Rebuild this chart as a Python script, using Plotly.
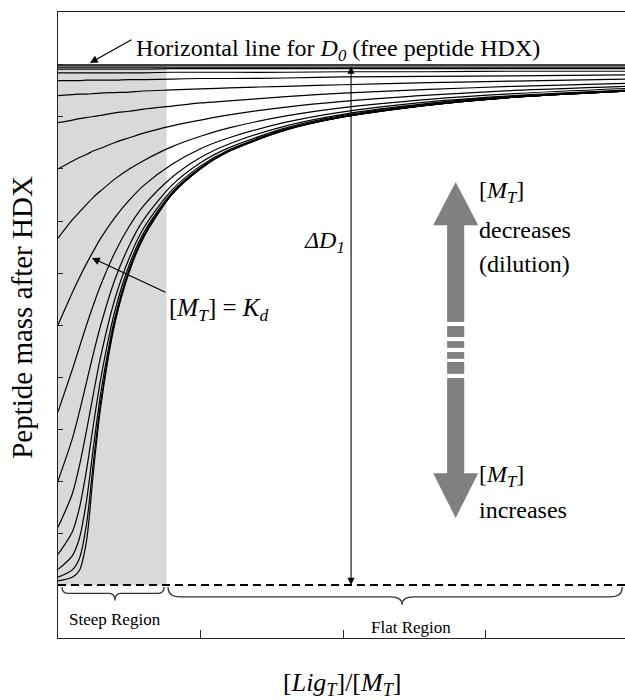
import plotly.graph_objects as go

# ---- data ----
# x: ligand/protein ratio [Lig_T]/[M_T]; y: peptide mass (D0 = 10, fully protected = 0)
ratio = [0, 0.5, 0.75, 1, 1.25, 1.5, 2, 2.5, 3, 4, 5, 6, 8, 10, 13, 16, 20]

curve_k0p0078 = [0.08, 0.15, 0.28, 0.85, 2.22, 3.43, 5.04, 6.02, 6.68, 7.51, 8.00, 8.34, 8.75, 9.00, 9.23, 9.38, 9.50]
curve_k0p016 = [0.15, 0.29, 0.51, 1.17, 2.40, 3.52, 5.08, 6.04, 6.69, 7.51, 8.01, 8.34, 8.75, 9.00, 9.23, 9.38, 9.50]
curve_k0p031 = [0.30, 0.56, 0.90, 1.62, 2.68, 3.69, 5.15, 6.08, 6.72, 7.53, 8.02, 8.34, 8.76, 9.00, 9.23, 9.38, 9.50]
curve_k0p063 = [0.59, 1.02, 1.48, 2.21, 3.11, 3.97, 5.28, 6.16, 6.77, 7.55, 8.03, 8.35, 8.76, 9.01, 9.23, 9.38, 9.50]
curve_k0p125 = [1.11, 1.75, 2.29, 2.97, 3.70, 4.40, 5.51, 6.29, 6.86, 7.60, 8.06, 8.37, 8.77, 9.01, 9.24, 9.38, 9.50]
curve_k0p25 = [2.00, 2.81, 3.33, 3.90, 4.47, 5.00, 5.88, 6.53, 7.02, 7.69, 8.12, 8.41, 8.79, 9.03, 9.25, 9.39, 9.51]
curve_k0p5 = [3.33, 4.14, 4.57, 5.00, 5.40, 5.77, 6.40, 6.90, 7.29, 7.84, 8.22, 8.48, 8.83, 9.05, 9.26, 9.40, 9.51]
curve_k1 = [5.00, 5.62, 5.91, 6.18, 6.43, 6.67, 7.07, 7.40, 7.68, 8.09, 8.39, 8.60, 8.90, 9.10, 9.29, 9.41, 9.52]
curve_k2 = [6.67, 7.02, 7.17, 7.32, 7.46, 7.58, 7.81, 8.00, 8.16, 8.43, 8.63, 8.79, 9.02, 9.18, 9.34, 9.45, 9.55]
curve_k4 = [8.00, 8.15, 8.22, 8.28, 8.35, 8.40, 8.51, 8.60, 8.69, 8.83, 8.94, 9.04, 9.19, 9.30, 9.42, 9.51, 9.59]
curve_k8 = [8.89, 8.94, 8.97, 8.99, 9.01, 9.03, 9.08, 9.11, 9.15, 9.21, 9.27, 9.31, 9.39, 9.46, 9.53, 9.59, 9.65]
curve_k16 = [9.41, 9.43, 9.44, 9.44, 9.45, 9.46, 9.47, 9.48, 9.50, 9.52, 9.54, 9.56, 9.59, 9.62, 9.66, 9.69, 9.73]
curve_k32 = [9.70, 9.70, 9.70, 9.71, 9.71, 9.71, 9.71, 9.72, 9.72, 9.73, 9.74, 9.74, 9.75, 9.77, 9.78, 9.79, 9.81]
curve_k64 = [9.85, 9.85, 9.85, 9.85, 9.85, 9.85, 9.85, 9.85, 9.85, 9.86, 9.86, 9.86, 9.86, 9.87, 9.87, 9.88, 9.88]
curve_k128 = [9.92, 9.92, 9.92, 9.92, 9.92, 9.92, 9.92, 9.92, 9.92, 9.93, 9.93, 9.93, 9.93, 9.93, 9.93, 9.93, 9.93]
curve_k256 = [9.96, 9.96, 9.96, 9.96, 9.96, 9.96, 9.96, 9.96, 9.96, 9.96, 9.96, 9.96, 9.96, 9.96, 9.96, 9.96, 9.96]
free_peptide_D0 = [10, 10, 10, 10, 10, 10, 10, 10, 10, 10, 10, 10, 10, 10, 10, 10, 10]

curves = [curve_k0p0078, curve_k0p016, curve_k0p031, curve_k0p063, curve_k0p125,
          curve_k0p25, curve_k0p5, curve_k1, curve_k2, curve_k4, curve_k8,
          curve_k16, curve_k32, curve_k64, curve_k128, curve_k256]

D0_level = 10
bound_level = 0
steep_end = 3.81
x_ticks = [5, 10, 15]
y_ticks = [0, 1, 2, 3, 4, 5, 6, 7, 8, 9, 10]

FONT = "Liberation Serif"

fig = go.Figure()
for c in curves:
    fig.add_trace(go.Scatter(x=ratio, y=c, mode="lines",
                             line=dict(color="black", width=1.2, shape="spline", smoothing=0.8),
                             hoverinfo="skip", showlegend=False))
fig.add_trace(go.Scatter(x=ratio, y=free_peptide_D0, mode="lines",
                         line=dict(color="black", width=1.5),
                         hoverinfo="skip", showlegend=False))

shapes = []
# steep region shading
shapes.append(dict(type="rect", xref="x", yref="y", x0=0, x1=steep_end, y0=bound_level, y1=D0_level,
                   fillcolor="#d9d9d9", line=dict(width=0), layer="below"))
# dashed bound level
shapes.append(dict(type="line", xref="paper", yref="y", x0=0, x1=1, y0=bound_level, y1=bound_level,
                   line=dict(color="black", width=2, dash="8px,5px")))

# braces
def brace(x0, x1, xc, ytop, ymid, ybot, c):
    return (f"M {x0},{ytop} Q {x0},{ymid} {x0+c},{ymid} L {xc-c},{ymid} "
            f"Q {xc},{ymid} {xc},{ybot} Q {xc},{ymid} {xc+c},{ymid} L {x1-c},{ymid} "
            f"Q {x1},{ymid} {x1},{ytop}")

shapes.append(dict(type="path", xref="x", yref="y",
                   path=brace(0.14, 3.72, 2.0, -0.04, -0.16, -0.30, 0.2),
                   line=dict(color="#333", width=1.3)))
shapes.append(dict(type="path", xref="x", yref="y",
                   path=brace(3.86, 19.79, 12.07, -0.04, -0.23, -0.38, 0.42),
                   line=dict(color="#333", width=1.3)))

# big gray double arrow
ax_c, sh, hd = 13.95, 0.30, 0.79
shapes.append(dict(type="path", xref="x", yref="y",
                   path=(f"M {ax_c-sh},6.92 L {ax_c-hd},6.92 L {ax_c},7.75 L {ax_c+hd},6.92 L {ax_c+sh},6.92 "
                         f"L {ax_c+sh},2.15 L {ax_c+hd},2.15 L {ax_c},1.29 L {ax_c-hd},2.15 L {ax_c-sh},2.15 Z"),
                   fillcolor="#808080", line=dict(width=0)))
for (ya, yb) in [(4.98, 5.06), (4.69, 4.77), (4.48, 4.56), (4.29, 4.35), (3.98, 4.06)]:
    shapes.append(dict(type="rect", xref="x", yref="y", x0=ax_c-0.5, x1=ax_c+0.5, y0=ya, y1=yb,
                       fillcolor="white", line=dict(width=0)))

ann = []
def tf(size=24):
    return dict(family=FONT, size=size, color="black")

# D0 label + arrow
ann.append(dict(x=2.67, y=10.29, xref="x", yref="y", xanchor="left", yanchor="middle",
                text="Horizontal line for <i>D<sub>0</sub></i> (free peptide HDX)", showarrow=False, font=tf()))
ann.append(dict(x=1.12, y=10.04, xref="x", yref="y", text="", showarrow=True, ax=43, ay=-24,
                arrowhead=2, arrowsize=1.3, arrowwidth=1.2, arrowcolor="black", standoff=0))
# [M_T] = K_d
ann.append(dict(x=3.82, y=5.29, xref="x", yref="y", xanchor="left", yanchor="middle",
                text="[<i>M<sub>T</sub></i>] = <i>K<sub>d</sub></i>", showarrow=False, font=tf(25)))
ann.append(dict(x=1.19, y=6.29, xref="x", yref="y", text="", showarrow=True, ax=75, ay=35,
                arrowhead=2, arrowsize=1.3, arrowwidth=1.2, arrowcolor="black", standoff=0))
# Delta D1 double arrow
ann.append(dict(x=10.28, y=bound_level, xref="x", yref="y", ax=10.28, ay=D0_level, axref="x", ayref="y",
                text="", showarrow=True, arrowside="end+start", arrowhead=2, startarrowhead=2,
                arrowsize=1.3, startarrowsize=1.3, arrowwidth=1.1, arrowcolor="black",
                standoff=0, startstandoff=0))
ann.append(dict(x=8.56, y=6.6, xref="x", yref="y", xanchor="left", yanchor="middle",
                text="<i>ΔD<sub>1</sub></i>", showarrow=False, font=tf()))
# gray arrow labels
for txt, yy in [("[<i>M<sub>T</sub></i>]", 7.55), ("decreases", 6.82), ("(dilution)", 6.18),
                ("[<i>M<sub>T</sub></i>]", 2.1), ("increases", 1.44)]:
    ann.append(dict(x=14.7, y=yy, xref="x", yref="y", xanchor="left", yanchor="middle",
                    text=txt, showarrow=False, font=tf()))
# region labels
ann.append(dict(x=0.3, y=-0.67, xref="x", yref="y", xanchor="left", yanchor="middle",
                text="Steep Region", showarrow=False, font=tf(17)))
ann.append(dict(x=10.9, y=-0.81, xref="x", yref="y", xanchor="left", yanchor="middle",
                text="Flat Region", showarrow=False, font=tf(17)))
# axis titles
ann.append(dict(x=0.501, y=-0.073, xref="paper", yref="paper", xanchor="center", yanchor="middle",
                text="[<i>Lig<sub>T</sub></i>]/[<i>M<sub>T</sub></i>]", showarrow=False, font=tf(26)))
ann.append(dict(x=-0.0635, y=0.513, xref="paper", yref="paper", xanchor="center", yanchor="middle",
                text="Peptide mass after HDX", textangle=-90, showarrow=False, font=tf(29)))

fig.update_layout(
    width=625, height=700,
    margin=dict(l=58, r=0, t=12, b=62),
    paper_bgcolor="white", plot_bgcolor="white",
    showlegend=False,
    shapes=shapes, annotations=ann,
    xaxis=dict(range=[0, 19.89], showline=True, linecolor="#222", linewidth=1.3, mirror=True,
               ticks="inside", tickvals=x_ticks, ticklen=8, tickcolor="#222", tickwidth=1.2,
               showticklabels=False, showgrid=False, zeroline=False),
    yaxis=dict(range=[-1.019, 11.019], showline=True, linecolor="#222", linewidth=1.3, mirror=False,
               ticks="inside", tickvals=y_ticks, ticklen=5, tickcolor="#222", tickwidth=1.2,
               showticklabels=False, showgrid=False, zeroline=False),
)

fig.write_html("out.html", config={"displayModeBar": False},
               post_script="document.body.style.margin='0';document.body.style.overflow='hidden';")
